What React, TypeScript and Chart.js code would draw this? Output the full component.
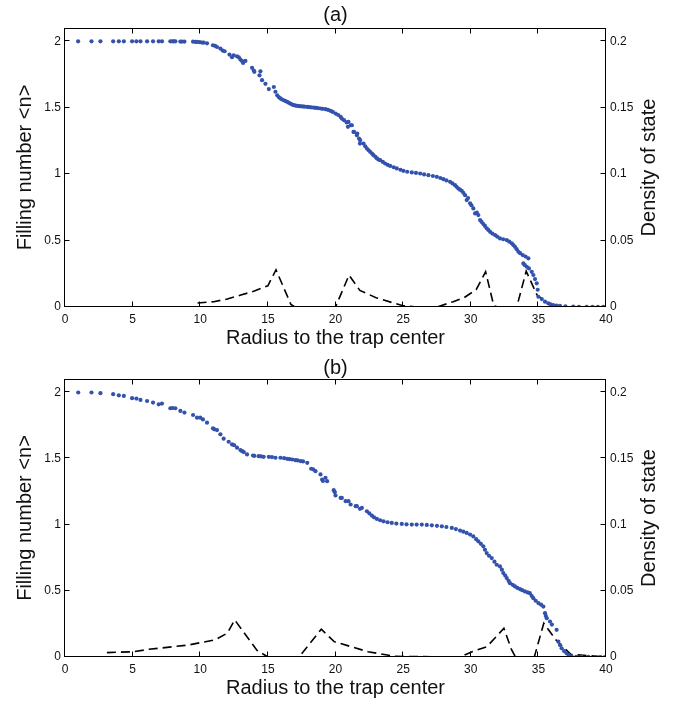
import React, { useEffect, useRef } from 'react';
import { Chart, registerables } from 'chart.js';

Chart.register(...registerables);

const FONT = '"Liberation Sans", Arial, Helvetica, sans-serif';

// ---- tick labels ----
const xTicks = [0, 5, 10, 15, 20, 25, 30, 35, 40];
const yTicks = [0, 0.5, 1, 1.5, 2];
const y2Ticks = [0, 0.05, 0.1, 0.15, 0.2];

// ---- panel (a): filling number ----
const aRadius = [
  0.97, 1.96, 2.62, 3.56, 3.98, 4.35, 4.96, 5.28, 5.58, 6.07, 6.51, 6.93, 7.17, 7.79, 7.95, 8.04, 8.16, 8.53, 8.66, 8.83,
  9.47, 9.65, 9.76, 9.96, 10.13, 10.25, 10.5, 10.94, 11.1, 11.24, 11.49, 11.66, 11.8, 12.16, 12.35, 12.47, 12.72, 12.85,
  12.97, 13.1, 13.17, 13.34, 13.83, 13.96, 14.0, 14.45, 14.38, 14.57, 14.82, 15.07, 15.44, 15.56, 15.69, 15.8, 15.93,
  16.05, 16.18, 16.3, 16.43, 16.55, 16.68, 16.8, 16.92, 17.05, 17.17, 17.3, 17.42, 17.55, 17.7, 17.91, 18.05, 18.2, 18.4,
  18.55, 18.7, 18.9, 19.05, 19.27, 19.45, 19.64, 19.8, 20.01, 20.2, 20.38, 20.47, 20.63, 20.82, 20.96, 20.92, 21.12,
  21.21, 21.33, 21.37, 21.58, 21.61, 21.74, 21.82, 21.81, 22.07, 22.2, 22.32, 22.45, 22.56, 22.7, 22.81, 22.95, 23.06,
  23.18, 23.3, 23.5, 23.67, 23.85, 24.04, 24.3, 24.53, 24.8, 25.02, 25.3, 25.64, 25.95, 26.26, 26.55, 26.87, 27.2, 27.49,
  27.75, 27.98, 28.2, 28.47, 28.65, 28.84, 28.95, 29.08, 29.2, 29.33, 29.45, 29.58, 29.7, 29.8, 29.95, 30.05, 30.19,
  30.32, 30.45, 30.56, 30.69, 30.8, 30.93, 31.05, 31.18, 31.3, 31.43, 31.6, 31.8, 31.95, 32.16, 32.4, 32.66, 32.85, 33.03,
  33.15, 33.27, 33.4, 33.52, 33.65, 33.84, 34.05, 34.26, 33.89, 34.0, 34.14, 34.3, 34.51, 34.63, 34.75, 34.88, 34.95,
  35.0, 35.25, 35.49, 35.73, 35.9, 36.1, 36.35, 36.6, 37.0, 37.58, 38.0, 38.57, 39.0, 39.4, 39.8,
];
const aFilling = [
  2.0, 2.0, 2.0, 2.0, 2.0, 2.0, 2.0, 2.0, 2.0, 2.0, 2.0, 2.0, 2.0, 2.0, 2.0, 2.0, 2.0, 1.998, 1.998, 1.998,
  1.997, 1.995, 1.995, 1.993, 1.99, 1.99, 1.985, 1.97, 1.965, 1.957, 1.945, 1.93, 1.925, 1.9, 1.88, 1.895, 1.887, 1.88,
  1.862, 1.85, 1.837, 1.852, 1.8, 1.78, 1.77, 1.774, 1.744, 1.707, 1.68, 1.64, 1.656, 1.62, 1.594, 1.58, 1.57,
  1.562, 1.556, 1.55, 1.544, 1.537, 1.53, 1.524, 1.519, 1.516, 1.514, 1.512, 1.511, 1.51, 1.508, 1.506, 1.505, 1.503, 1.5,
  1.499, 1.497, 1.494, 1.492, 1.489, 1.483, 1.476, 1.468, 1.456, 1.445, 1.431, 1.418, 1.406, 1.389, 1.393, 1.356, 1.368,
  1.368, 1.318, 1.318, 1.293, 1.306, 1.268, 1.256, 1.23, 1.23, 1.21, 1.193, 1.18, 1.168, 1.155, 1.143, 1.13, 1.118,
  1.11, 1.105, 1.092, 1.08, 1.07, 1.062, 1.052, 1.043, 1.033, 1.025, 1.018, 1.013, 1.009, 1.005, 0.998, 0.992, 0.986, 0.98,
  0.971, 0.962, 0.953, 0.942, 0.93, 0.917, 0.905, 0.892, 0.883, 0.875, 0.86, 0.842, 0.805, 0.82, 0.78, 0.765, 0.742,
  0.704, 0.71, 0.692, 0.654, 0.64, 0.624, 0.61, 0.592, 0.58, 0.566, 0.553, 0.541, 0.53, 0.516, 0.51, 0.504, 0.492, 0.479,
  0.466, 0.453, 0.435, 0.416, 0.405, 0.391, 0.38, 0.366, 0.328, 0.315, 0.303, 0.29, 0.265, 0.241, 0.21, 0.178, 0.13,
  0.077, 0.06, 0.04, 0.028, 0.02, 0.015, 0.01, 0.008, 0.005, 0.003, 0.002, 0.002, 0.001, 0.001, 0.001,
];

// ---- panel (a): density of state ----
const aDosRadius = [9.8, 11, 12, 13, 14, 15, 15.6, 16.7, 17, 20, 21, 21.8, 23, 24.3, 25, 26, 27.5, 28.7, 29.5, 30.4, 31.1, 31.7, 32, 33.4, 34.1, 34.9, 35.7, 36.5, 40];
const aDos = [0.003, 0.004, 0.006, 0.009, 0.012, 0.016, 0.028, 0.002, 0, 0, 0.024, 0.0125, 0.007, 0.003, 0.001, 0, 0, 0.004, 0.007, 0.013, 0.0265, 0.001, 0, 0, 0.027, 0.009, 0.003, 0, 0];

// ---- panel (b): filling number ----
const bRadius = [
  0.98, 1.96, 2.62, 3.56, 3.98, 4.35, 4.96, 5.28, 5.58, 6.07, 6.51, 6.93, 7.17, 7.79, 7.95, 8.16, 8.53, 8.83, 9.47, 9.76,
  10.0, 10.2, 10.5, 10.94, 11.05, 11.24, 11.49, 11.73, 12.1, 12.35, 12.5, 12.72, 12.97, 13.1, 13.22, 13.46, 13.9, 14.0,
  14.32, 14.5, 14.69, 15.07, 15.3, 15.56, 15.93, 16.2, 16.43, 16.6, 16.8, 17.04, 17.2, 17.42, 17.6, 17.91, 18.2, 18.35,
  18.52, 18.89, 19.01, 19.07, 19.26, 19.38, 19.87, 19.95, 20.0, 20.38, 20.47, 20.75, 20.96, 21.12, 21.49, 21.58, 21.81,
  21.95, 22.32, 22.5, 22.69, 22.85, 23.06, 23.3, 23.55, 23.85, 24.16, 24.5, 24.9, 25.25, 25.64, 26.0, 26.38, 26.75, 27.12,
  27.5, 27.86, 28.2, 28.6, 28.9, 29.21, 29.45, 29.7, 29.95, 30.19, 30.4, 30.56, 30.75, 30.93, 31.05, 31.18, 31.35, 31.55,
  31.75, 31.92, 32.16, 32.3, 32.41, 32.55, 32.66, 32.8, 32.9, 33.1, 33.27, 33.45, 33.64, 33.8, 34.0, 34.2, 34.37, 34.5,
  34.63, 34.8, 35.0, 35.2, 35.37, 35.49, 35.55, 35.62, 35.86, 36.0, 36.35, 36.48, 36.6, 36.72, 36.9, 37.09, 37.25, 37.46,
  37.8, 38.2, 38.7, 39.18, 39.6, 39.92,
];
const bFilling = [
  1.998, 1.998, 1.993, 1.985, 1.977, 1.972, 1.955, 1.952, 1.942, 1.934, 1.922, 1.909, 1.914, 1.879, 1.881, 1.879, 1.859, 1.846, 1.828, 1.808,
  1.808, 1.795, 1.77, 1.727, 1.72, 1.714, 1.682, 1.649, 1.626, 1.606, 1.6, 1.581, 1.563, 1.555, 1.548, 1.53, 1.522, 1.52,
  1.517, 1.515, 1.512, 1.512, 1.51, 1.505, 1.505, 1.502, 1.497, 1.495, 1.492, 1.487, 1.485, 1.48, 1.477, 1.467, 1.422, 1.418,
  1.404, 1.379, 1.341, 1.33, 1.354, 1.328, 1.26, 1.245, 1.22, 1.202, 1.202, 1.177, 1.177, 1.152, 1.139, 1.139, 1.119,
  1.126, 1.101, 1.085, 1.068, 1.055, 1.043, 1.033, 1.025, 1.018, 1.013, 1.008, 1.005, 1.002, 1.0, 1.0, 1.0, 0.998, 0.995,
  0.991, 0.987, 0.982, 0.975, 0.966, 0.955, 0.947, 0.937, 0.925, 0.911, 0.89, 0.874, 0.855, 0.836, 0.81, 0.785, 0.765, 0.747,
  0.72, 0.697, 0.684, 0.66, 0.634, 0.615, 0.596, 0.575, 0.558, 0.545, 0.533, 0.522, 0.513, 0.505, 0.495, 0.488, 0.482, 0.462,
  0.444, 0.425, 0.407, 0.395, 0.381, 0.331, 0.31, 0.293, 0.268, 0.245, 0.205, 0.116, 0.09, 0.066, 0.045, 0.028, 0.015, 0.003,
  0.002, 0.001, 0.001, 0, 0, 0,
];

// ---- panel (b): density of state ----
const bDosRadius = [3.1, 5.1, 6.2, 9.1, 11.1, 12.0, 12.55, 14.2, 15.0, 17.3, 18.95, 19.9, 22.4, 24.4, 29.2, 30.1, 31.2, 32.45, 33.0, 33.3, 34.7, 35.4, 36.3, 37.4, 40];
const bDos = [0.0033, 0.004, 0.0058, 0.009, 0.013, 0.018, 0.028, 0.005, 0, 0, 0.021, 0.0116, 0.004, 0.0005, 0, 0.004, 0.0078, 0.0217, 0.006, 0, 0, 0.0255, 0.0129, 0.002, 0];

const framePlugin = {
  id: 'frame',
  afterDraw(chart: any, _args: any, opts: any) {
    const ctx = chart.ctx as CanvasRenderingContext2D;
    const { left, right, top, bottom } = chart.chartArea;
    const sx = chart.scales.x;
    const sy = chart.scales.y;
    ctx.save();
    ctx.strokeStyle = '#000';
    ctx.lineWidth = 1;
    const L = Math.round(left) - 0.5;
    const R = Math.round(right) - 0.5;
    const T = Math.round(top) + 0.5;
    const B = Math.round(bottom) - 0.5;
    ctx.strokeRect(L, T, R - L, B - T);
    const tl = 5;
    ctx.beginPath();
    xTicks.forEach((v) => {
      const px = Math.round(sx.getPixelForValue(v)) - 0.5;
      ctx.moveTo(px, B); ctx.lineTo(px, B - tl);
      ctx.moveTo(px, T); ctx.lineTo(px, T + tl);
    });
    yTicks.forEach((v) => {
      const py = Math.round(sy.getPixelForValue(v)) - 0.5;
      ctx.moveTo(L, py); ctx.lineTo(L + tl, py);
      ctx.moveTo(R, py); ctx.lineTo(R - tl, py);
    });
    ctx.stroke();

    ctx.fillStyle = '#111';
    ctx.font = `20px ${FONT}`;
    ctx.textAlign = 'center';
    ctx.textBaseline = 'middle';
    const cx = (left + right) / 2;
    const cy = (top + bottom) / 2;
    ctx.fillText(opts.title, cx, opts.titleY);
    ctx.fillText('Radius to the trap center', cx, bottom + 31);
    ctx.save();
    ctx.translate(25, cy);
    ctx.rotate(-Math.PI / 2);
    ctx.fillText('Filling number <n>', 0, 0);
    ctx.restore();
    ctx.save();
    ctx.translate(649, cy);
    ctx.rotate(-Math.PI / 2);
    ctx.fillText('Density of state', 0, 0);
    ctx.restore();
    ctx.restore();
  },
};

type PanelProps = {
  title: string;
  titleY: number;
  radius: number[];
  filling: number[];
  dosRadius: number[];
  dos: number[];
  height: number;
  xHeight: number;
  top: number;
};

function Panel(p: PanelProps) {
  const ref = useRef<HTMLCanvasElement>(null);
  useEffect(() => {
    if (!ref.current) return;
    const tickFont = { family: FONT, size: 12 };
    const noGrid = { display: false, drawTicks: false, tickLength: 0 };
    const chart = new Chart(ref.current, {
      type: 'scatter',
      data: {
        datasets: [
          {
            label: 'Filling number',
            data: p.radius.map((x, i) => ({ x, y: p.filling[i] })),
            yAxisID: 'y',
            backgroundColor: '#3352ad',
            borderColor: '#3352ad',
            pointRadius: 2.1,
            pointBorderWidth: 0,
            showLine: false,
          },
          {
            label: 'Density of state',
            data: p.dosRadius.map((x, i) => ({ x, y: p.dos[i] })),
            yAxisID: 'y2',
            showLine: true,
            borderColor: '#000',
            borderWidth: 1.6,
            borderDash: [9, 5],
            pointRadius: 0,
            tension: 0,
            fill: false,
          },
        ],
      } as any,
      options: {
        responsive: false,
        animation: false,
        layout: { padding: { top: p.top, left: 0, right: 0, bottom: 0 } },
        plugins: {
          legend: { display: false },
          tooltip: { enabled: false },
          title: { display: false },
          frame: { title: p.title, titleY: p.titleY },
        } as any,
        scales: {
          x: {
            type: 'linear',
            position: 'bottom',
            min: 0,
            max: 40,
            grid: noGrid,
            border: { display: false },
            ticks: { padding: 5, font: tickFont, color: '#111', maxRotation: 0, autoSkip: false, callback: (v: any) => String(v) },
            afterBuildTicks: (s: any) => { s.ticks = xTicks.map((value) => ({ value })); },
            afterFit: (s: any) => { s.height = p.xHeight; },
          },
          y: {
            type: 'linear',
            position: 'left',
            min: 0,
            max: 2.1,
            grid: noGrid,
            border: { display: false },
            ticks: { padding: 4, font: tickFont, color: '#111', callback: (v: any) => String(v) },
            afterBuildTicks: (s: any) => { s.ticks = yTicks.map((value) => ({ value })); },
            afterFit: (s: any) => { s.width = 65; },
          },
          y2: {
            type: 'linear',
            position: 'right',
            min: 0,
            max: 0.21,
            grid: noGrid,
            border: { display: false },
            ticks: { padding: 4, font: tickFont, color: '#111', callback: (v: any) => String(v) },
            afterBuildTicks: (s: any) => { s.ticks = y2Ticks.map((value) => ({ value })); },
            afterFit: (s: any) => { s.width = 75; },
          },
        },
      } as any,
      plugins: [framePlugin as any],
    });
    return () => chart.destroy();
  }, []);
  return <canvas ref={ref} width={681} height={p.height} style={{ display: 'block', width: 681, height: p.height }} />;
}

export default function App() {
  return (
    <div style={{ position: 'absolute', left: 0, top: 0, width: 681, height: 703, background: '#fff' }}>
      <Panel title="(a)" titleY={15} radius={aRadius} filling={aFilling} dosRadius={aDosRadius} dos={aDos} height={351} xHeight={44} top={28} />
      <Panel title="(b)" titleY={17} radius={bRadius} filling={bFilling} dosRadius={bDosRadius} dos={bDos} height={352} xHeight={46} top={28} />
    </div>
  );
}
